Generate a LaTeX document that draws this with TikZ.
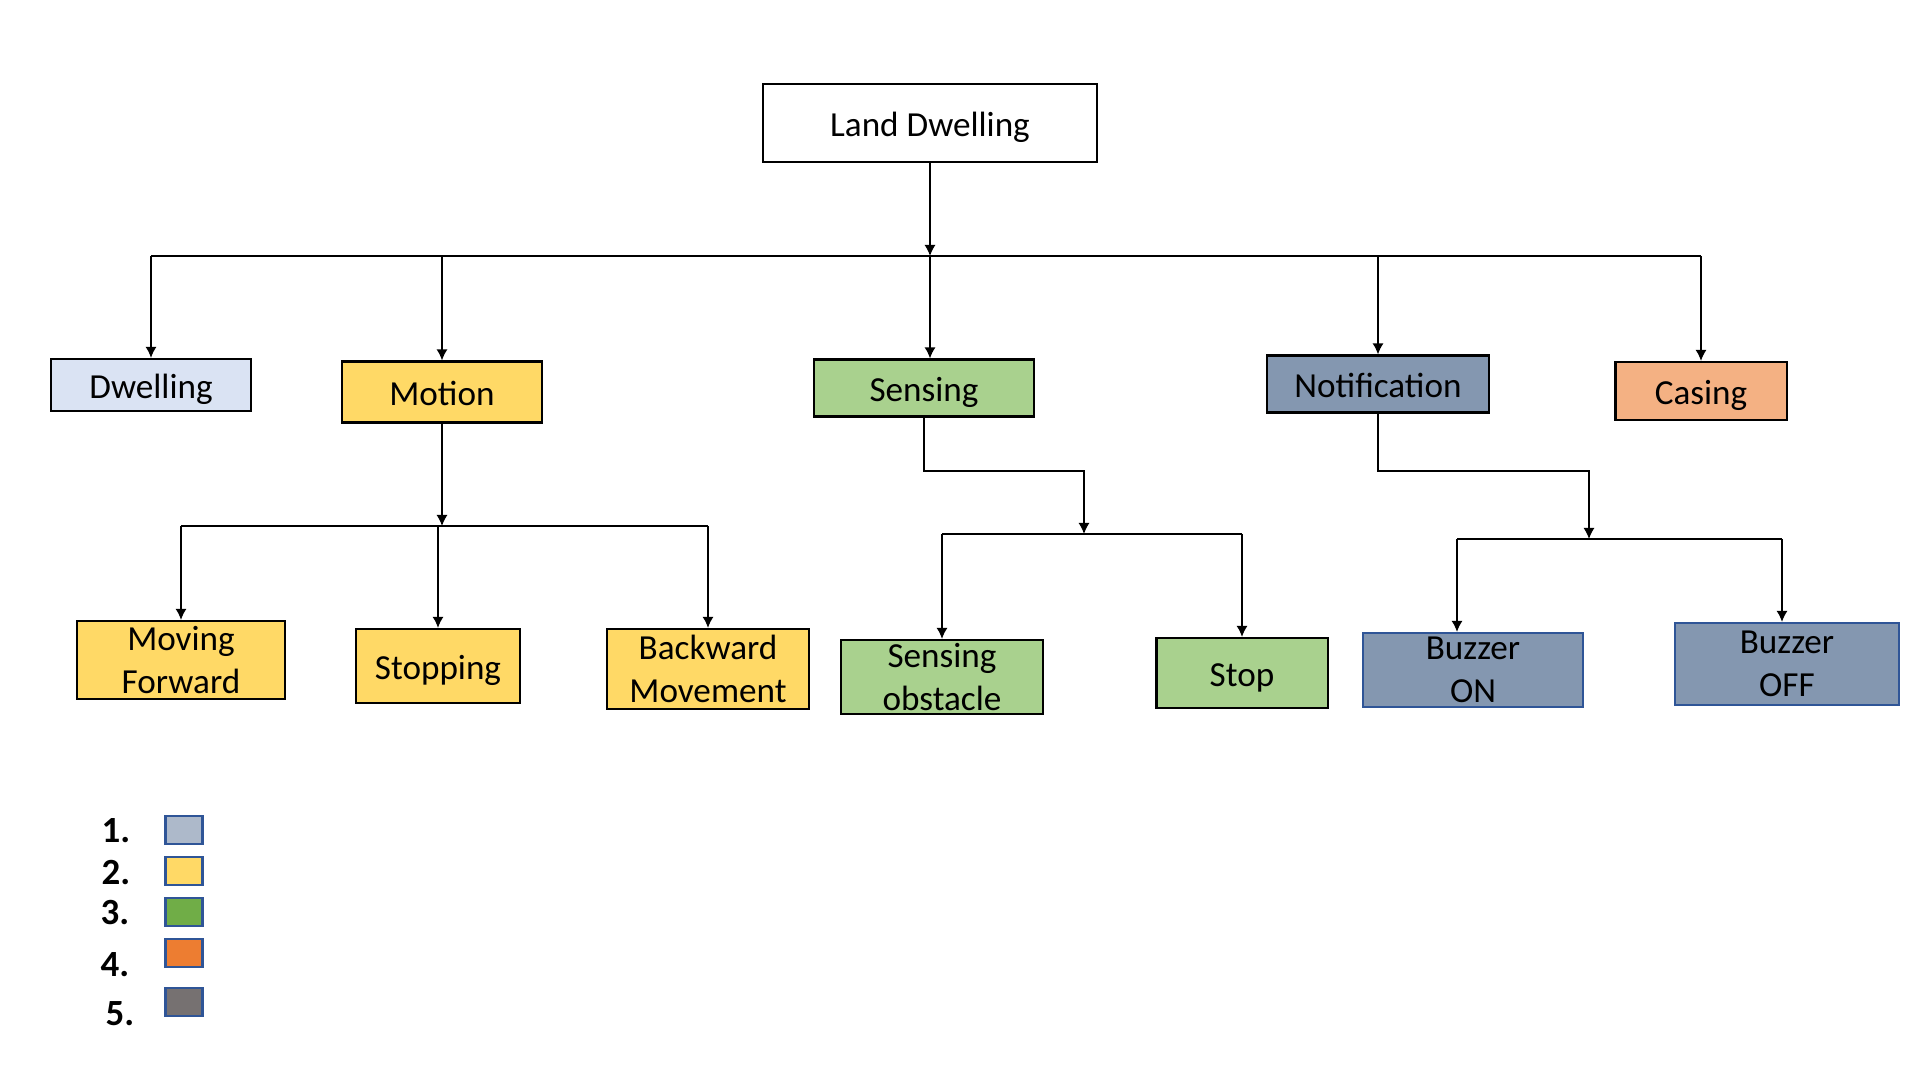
\documentclass[tikz,border=0pt]{standalone}
\usepackage{fontspec}
\setmainfont{Carlito}
\usepackage{xcolor}
\usetikzlibrary{arrows.meta}
\definecolor{dwelfill}{HTML}{DAE3F3}
\definecolor{motfill}{HTML}{FFD966}
\definecolor{sensfill}{HTML}{A9D18E}
\definecolor{notiffill}{HTML}{8497B0}
\definecolor{casefill}{HTML}{F4B183}
\definecolor{keyblue}{HTML}{2F5597}
\definecolor{keyone}{HTML}{ADB9CA}
\definecolor{keythree}{HTML}{70AD47}
\definecolor{keyfour}{HTML}{ED7D31}
\definecolor{keyfive}{HTML}{767171}

\begin{document}
\begin{tikzpicture}[x=0.01cm,y=-0.01cm,
  box/.style={draw=black,line width=0.6pt,inner sep=0pt,align=center,font=\fontsize{10}{12.2}\selectfont},
  single/.style={box,text height=7.8pt,text depth=0pt},
  link/.style={-{Latex[length=1.1mm,width=1.1mm]},line width=0.4pt},
  bus/.style={line width=0.4pt},
  keybox/.style={draw=keyblue,line width=0.7pt,minimum width=0.37cm,minimum height=0.28cm,inner sep=0pt},
  keynum/.style={font=\fontsize{10.5}{12}\selectfont\bfseries,inner sep=0pt}]
\useasboundingbox (0,0) rectangle (1920,1080);

% top
\node[single,minimum width=3.33cm,minimum height=0.78cm] (land) at (930,123) {Land Dwelling};

% first level
\node[single,fill=dwelfill,minimum width=2.00cm,minimum height=0.52cm] (dwel) at (151,385) {Dwelling};
\node[single,fill=motfill,minimum width=2.00cm,minimum height=0.61cm] (motion) at (442,392) {Motion};
\node[single,fill=sensfill,minimum width=2.19cm,minimum height=0.57cm] (sensing) at (924,388) {Sensing};
\node[single,fill=notiffill,minimum width=2.21cm,minimum height=0.57cm] (notif) at (1378,384) {Notification};
\node[single,fill=casefill,minimum width=1.71cm,minimum height=0.58cm] (casing) at (1701,391) {Casing};

% second level
\node[box,fill=motfill,minimum width=2.07cm,minimum height=0.78cm] (mfwd) at (181,660) {Moving\\Forward};
\node[single,fill=motfill,minimum width=1.64cm,minimum height=0.74cm] (stopping) at (438,666) {Stopping};
\node[box,fill=motfill,minimum width=2.02cm,minimum height=0.80cm] (bwd) at (708,669) {Backward\\Movement};
\node[box,fill=sensfill,minimum width=2.02cm,minimum height=0.74cm] (sobs) at (942,677) {Sensing\\obstacle};
\node[single,fill=sensfill,minimum width=1.71cm,minimum height=0.70cm] (stop) at (1242,673) {Stop};
\node[box,draw=keyblue,fill=notiffill,minimum width=2.20cm,minimum height=0.74cm] (bon) at (1473,670) {Buzzer\\ON};
\node[box,draw=keyblue,fill=notiffill,minimum width=2.24cm,minimum height=0.82cm] (boff) at (1787,664) {Buzzer\\OFF};

% connectors
\coordinate (bus1) at (930,256);
\draw[link] (land) -- (bus1);
\draw[bus] (dwel.north |- bus1) -- (casing.north |- bus1);
\foreach \n in {dwel,motion,notif,casing}
  \draw[link] (\n.north |- bus1) -- (\n.north);
\draw[link] (bus1) -- (bus1 |- sensing.north);

\coordinate (bus2) at (442,526);
\draw[link] (motion) -- (bus2);
\draw[bus] (mfwd.north |- bus2) -- (bwd.north |- bus2);
\foreach \n in {mfwd,stopping,bwd}
  \draw[link] (\n.north |- bus2) -- (\n.north);

\coordinate (elb3) at (1084,471);
\coordinate (bus3) at (1084,534);
\draw[link] (sensing.south) |- (elb3) -- (bus3);
\draw[bus] (sobs.north |- bus3) -- (stop.north |- bus3);
\foreach \n in {sobs,stop}
  \draw[link] (\n.north |- bus3) -- (\n.north);

\coordinate (elb4) at (1589,471);
\coordinate (bus4) at (1589,539);
\draw[link] (notif.south) |- (elb4) -- (bus4);
\path (bon.north) ++(-16,0) coordinate (bonin);
\path (boff.north) ++(-5,0) coordinate (boffin);
\draw[bus] (bonin |- bus4) -- (boffin |- bus4);
\foreach \n in {bonin,boffin}
  \draw[link] (\n |- bus4) -- (\n);

% legend
\foreach \k/\c/\tx/\ty/\by in {1/keyone/116/831/830, 2/motfill/116/873/871,
    3/keythree/115/913/912, 4/keyfour/115/965/953, 5/keyfive/120/1014/1002} {
  \node[keynum] (num\k) at (\tx,\ty) {\k.};
  \node[keybox,fill=\c] (key\k) at (184,\by) {};
}
\end{tikzpicture}
\end{document}
